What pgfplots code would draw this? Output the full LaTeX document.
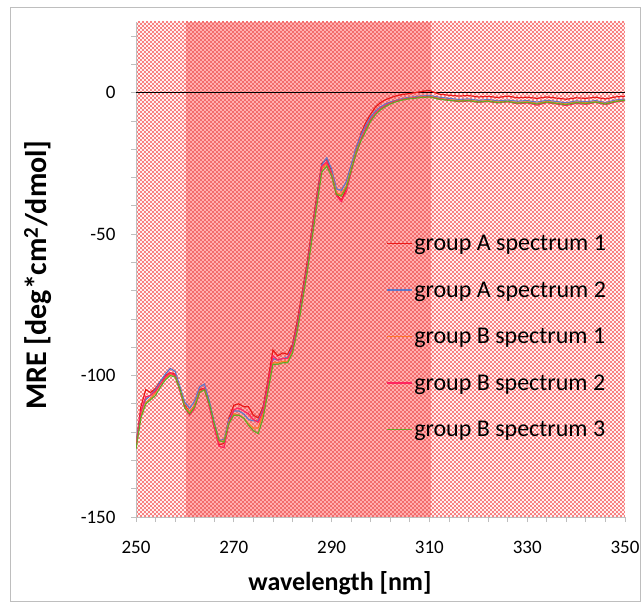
\documentclass[border=0pt]{standalone}
\usepackage{pgfplots}
\pgfplotsset{compat=1.18}
\usepackage{pgfplotstable}
\usepackage{fontspec}
\setmainfont{Carlito}

\definecolor{cA1}{RGB}{235,25,25}
\definecolor{cA2}{RGB}{95,120,200}
\definecolor{cB1}{RGB}{255,120,40}
\definecolor{cB2}{RGB}{255,35,95}
\definecolor{cB3}{RGB}{100,170,40}
\definecolor{baselight}{RGB}{255,240,240}
\definecolor{hatchlight}{RGB}{248,130,130}
\definecolor{basedark}{RGB}{255,175,175}
\definecolor{hatchdark}{RGB}{242,108,108}
\definecolor{frame}{RGB}{190,190,190}

% MRE spectra, wavelength in nm
\pgfplotstableread{
x    a1     a2     b1     b2     b3
250 -124.5 -124.0 -125.0 -125.5 -126.0
251 -111.0 -113.0 -114.0 -112.5 -115.0
252 -105.0 -108.5 -109.5 -107.5 -110.0
253 -106.0 -107.0 -108.0 -107.0 -108.5
254 -104.5 -105.0 -106.0 -105.5 -107.0
255 -102.0 -102.0 -103.0 -103.0 -104.0
256 -100.0 -99.5  -101.0 -100.5 -101.5
257 -99.0  -97.5  -99.5  -99.0  -100.0
258 -99.5  -98.5  -100.0 -100.0 -100.5
259 -105.0 -104.0 -105.0 -105.5 -105.0
260 -110.5 -109.5 -111.0 -111.5 -111.5
261 -113.0 -111.5 -113.0 -114.0 -113.5
262 -110.5 -109.0 -110.5 -111.5 -111.0
263 -105.0 -104.0 -105.5 -106.0 -106.0
264 -104.5 -103.0 -105.0 -104.5 -105.0
265 -110.5 -109.0 -110.5 -111.0 -110.0
266 -118.0 -116.5 -117.5 -118.5 -117.0
267 -124.5 -123.0 -123.5 -125.0 -123.0
268 -124.0 -122.5 -123.0 -125.5 -123.5
269 -115.0 -115.5 -116.5 -117.0 -117.0
270 -110.5 -112.5 -113.5 -112.0 -114.0
271 -110.0 -112.5 -114.0 -111.5 -114.0
272 -111.0 -113.5 -115.0 -112.5 -115.0
273 -111.0 -115.5 -117.0 -113.5 -117.5
274 -114.0 -116.0 -118.5 -115.5 -119.5
275 -115.0 -116.0 -118.5 -116.5 -120.5
276 -111.0 -112.0 -113.5 -112.5 -115.0
277 -101.5 -103.0 -104.5 -103.0 -105.5
278 -91.0  -94.0  -95.5  -93.0  -96.0
279 -93.0  -94.5  -95.5  -94.5  -96.0
280 -92.0  -94.0  -95.0  -94.0  -95.5
281 -92.5  -93.5  -95.0  -94.0  -95.5
282 -89.0  -90.0  -91.5  -90.5  -92.0
283 -80.5  -82.0  -83.5  -82.5  -84.0
284 -70.5  -72.0  -73.5  -72.5  -74.0
285 -60.0  -61.5  -63.0  -62.0  -63.5
286 -48.0  -49.5  -51.0  -50.0  -51.5
287 -36.0  -37.5  -39.0  -38.0  -39.5
288 -25.0  -25.5  -27.0  -26.0  -28.0
289 -23.5  -23.0  -25.0  -24.5  -26.0
290 -28.0  -27.0  -28.5  -29.0  -29.5
291 -36.0  -34.0  -35.5  -36.5  -36.0
292 -38.0  -34.5  -36.0  -38.5  -36.5
293 -34.0  -31.5  -33.0  -35.0  -33.5
294 -27.0  -25.5  -27.0  -28.0  -27.5
295 -20.0  -19.5  -21.0  -21.5  -21.5
296 -14.5  -15.0  -16.5  -16.5  -17.0
297 -10.5  -11.5  -13.0  -12.5  -13.5
298 -7.5   -8.5   -9.5   -9.5   -10.0
299 -5.0   -6.5   -7.3   -7.2   -7.7
300 -3.5   -5.0   -5.7   -5.6   -6.0
301 -2.5   -4.0   -4.6   -4.5   -4.9
302 -1.8   -3.3   -3.8   -3.7   -4.0
303 -1.2   -2.8   -3.1   -3.0   -3.3
304 -0.8   -2.3   -2.6   -2.6   -2.8
305 -0.5   -1.9   -2.2   -2.2   -2.4
306 -0.3   -1.6   -1.9   -2.0   -2.1
307  0.0   -1.5   -1.8   -1.8   -2.0
308  0.3   -1.2   -1.5   -1.6   -1.7
309  0.6   -1.1   -1.4   -1.5   -1.6
310  0.8   -1.0   -1.3   -1.4   -1.5
312 -0.5   -1.6   -2.0   -2.2   -2.3
314 -0.9   -2.0   -2.5   -2.6   -2.7
316 -1.2   -2.4   -2.8   -3.2   -3.0
318 -1.0   -2.2   -2.6   -2.9   -2.8
320 -1.5   -2.7   -3.1   -3.4   -3.3
322 -1.3   -2.4   -2.8   -3.1   -3.0
324 -1.7   -2.9   -3.3   -3.6   -3.5
326 -1.2   -2.6   -3.0   -3.2   -3.1
328 -1.8   -3.0   -3.5   -3.9   -3.7
330 -1.6   -2.8   -3.2   -3.6   -3.4
332 -2.0   -3.3   -3.8   -4.4   -4.0
334 -1.5   -2.7   -3.1   -3.5   -3.3
336 -1.9   -3.1   -3.6   -4.0   -3.8
338 -2.3   -3.6   -4.0   -4.5   -4.2
340 -1.8   -2.9   -3.3   -3.8   -3.5
342 -2.0   -3.2   -3.6   -4.1   -3.8
344 -1.6   -2.8   -3.2   -3.4   -3.3
346 -2.2   -3.5   -3.8   -4.2   -4.0
348 -1.5   -2.6   -3.0   -3.3   -3.1
350 -1.2   -2.3   -2.6   -2.8   -2.7
}\spectra

\begin{document}
\begin{tikzpicture}
\useasboundingbox (0pt,0pt) rectangle (642pt,603pt);
\draw[frame, line width=1pt] (10pt,2pt) rectangle (640pt,595pt);
% checkered plot-area fill (light), with the darker band from 260.2 to 310.4 nm
\begin{scope}
  \clip (136pt,86pt) rectangle (625pt,581pt);
  \fill[baselight] (136pt,86pt) rectangle (625pt,581pt);
  \foreach \k in {0,...,247} {
    \pgfmathsetmacro\yy{87+2*\k}
    \pgfmathsetmacro\ph{mod(\k,2)*2}
    \draw[hatchlight, line width=2pt, dash pattern=on 2pt off 2pt, dash phase=\ph pt]
      (136pt,\yy pt) -- (625pt,\yy pt);
  }
\end{scope}
\begin{scope}
  \clip (185.9pt,86pt) rectangle (431.4pt,581pt);
  \fill[basedark] (185.9pt,86pt) rectangle (431.4pt,581pt);
  \foreach \k in {0,...,247} {
    \pgfmathsetmacro\yy{87+2*\k}
    \pgfmathsetmacro\ph{mod(\k,2)*2}
    \draw[hatchdark, line width=2pt, dash pattern=on 2pt off 2pt, dash phase=\ph pt]
      (136pt,\yy pt) -- (625pt,\yy pt);
  }
\end{scope}
\begin{axis}[
  at={(136pt,86pt)}, anchor=south west,
  scale only axis, width=489pt, height=495pt,
  xmin=250, xmax=350, ymin=-150, ymax=25,
  axis x line*=bottom, axis y line*=left,
  axis line style={frame, line width=0.8pt, -},
  tick style={frame, line width=0.8pt},
  tick align=outside,
  major tick length=5pt, minor tick length=5pt,
  xtick={250,270,...,350},
  minor xtick={254,258,...,346},
  ytick={-150,-100,-50,0},
  minor ytick={-140,-130,-120,-110,-90,-80,-70,-60,-40,-30,-20,-10,10,20},
  ticklabel style={font=\fontsize{19}{22}\selectfont},
  /pgf/number format/assume math mode=true,
  xticklabel style={yshift=-16pt},
  yticklabel style={xshift=-12pt},
  legend cell align=left,
  legend image code/.code={\draw[#1, line width=1.6pt] (0pt,0pt) -- (25pt,0pt);},
  legend style={draw=none, fill=none, at={(0.505,0.577)}, anchor=north west,
    font=\fontsize{24}{29}\selectfont, row sep=26.5pt,
    nodes={inner sep=1.5pt}},
]
\draw[black, line width=0.9pt] (axis cs:250,0) -- (axis cs:350,0);

\addplot[cA1, line width=1.2pt] table[x=x, y=a1] {\spectra};
\addlegendentry{group A spectrum 1}
\addplot[cA2, line width=1.2pt] table[x=x, y=a2] {\spectra};
\addlegendentry{group A spectrum 2}
\addplot[cB1, line width=1.2pt] table[x=x, y=b1] {\spectra};
\addlegendentry{group B spectrum 1}
\addplot[cB2, line width=1.2pt] table[x=x, y=b2] {\spectra};
\addlegendentry{group B spectrum 2}
\addplot[cB3, line width=1.2pt] table[x=x, y=b3] {\spectra};
\addlegendentry{group B spectrum 3}
\end{axis}
\node[font=\bfseries\fontsize{26}{30}\selectfont] at (340pt,20pt) {wavelength [nm]};
\node[font=\bfseries\fontsize{30}{35}\selectfont, rotate=90] at (38pt,328pt) {MRE [deg*cm\textsuperscript{2}/dmol]};
\end{tikzpicture}
\end{document}
